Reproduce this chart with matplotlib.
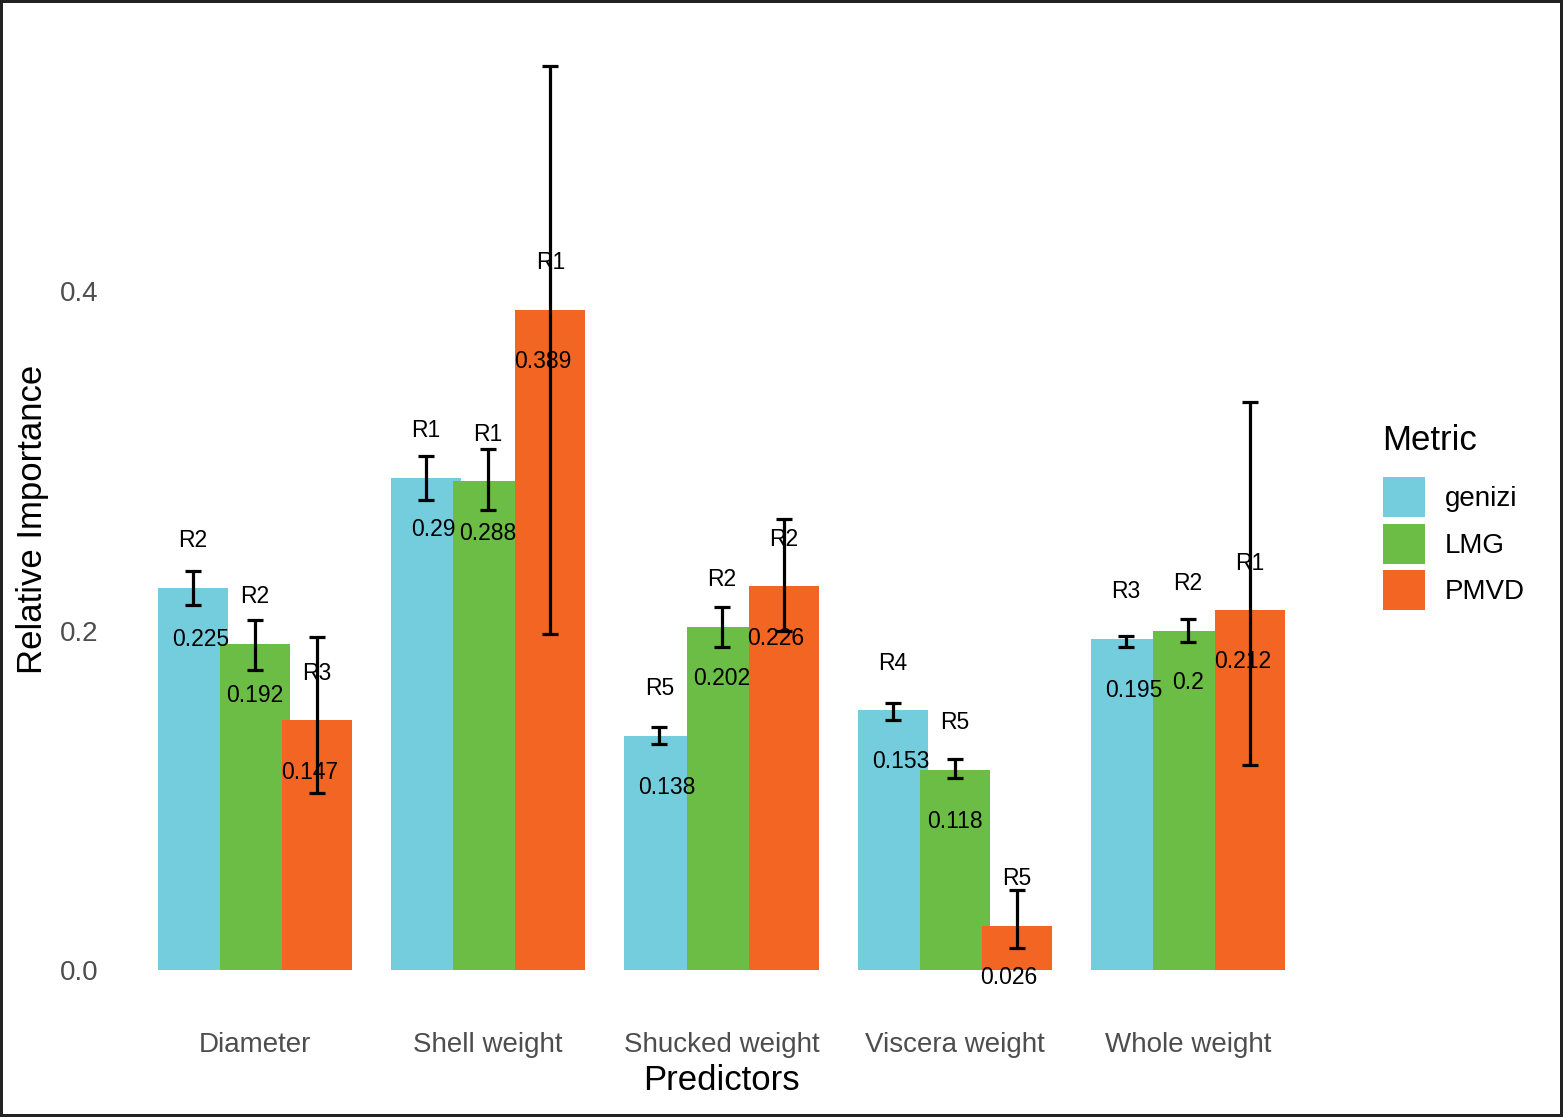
import matplotlib.pyplot as plt
import numpy as np

predictors = ['Diameter', 'Shell weight', 'Shucked weight', 'Viscera weight', 'Whole weight']
metrics = ['genizi', 'LMG', 'PMVD']
colors = ['#74CDDD', '#6BBD45', '#F26522']

genizi = [0.225, 0.290, 0.138, 0.153, 0.195]
lmg = [0.192, 0.288, 0.202, 0.118, 0.200]
pmvd = [0.147, 0.389, 0.226, 0.026, 0.212]

genizi_lo = [0.215, 0.277, 0.133, 0.147, 0.190]
genizi_hi = [0.235, 0.303, 0.143, 0.157, 0.197]
lmg_lo = [0.177, 0.271, 0.190, 0.113, 0.193]
lmg_hi = [0.206, 0.307, 0.214, 0.124, 0.207]
pmvd_lo = [0.104, 0.198, 0.200, 0.013, 0.121]
pmvd_hi = [0.196, 0.533, 0.266, 0.047, 0.335]

genizi_rank = ['R2', 'R1', 'R5', 'R4', 'R3']
lmg_rank = ['R2', 'R1', 'R2', 'R5', 'R2']
pmvd_rank = ['R3', 'R1', 'R2', 'R5', 'R1']

values = [genizi, lmg, pmvd]
lows = [genizi_lo, lmg_lo, pmvd_lo]
highs = [genizi_hi, lmg_hi, pmvd_hi]
ranks = [genizi_rank, lmg_rank, pmvd_rank]

plt.rcParams['font.family'] = ['Liberation Sans', 'DejaVu Sans']

fig = plt.figure(figsize=(15.63, 11.17), dpi=100)
fig.patch.set_edgecolor('#222222')
fig.patch.set_linewidth(4)
ax = fig.add_axes([115 / 1563, 1 - 1015 / 1117, 1213 / 1563, 995 / 1117])

x = np.arange(1, len(predictors) + 1)
bar_w = 0.9 / 3
dodge = 0.8 / 3
text_dodge = 0.7 / 3

handles = []
for i, m in enumerate(metrics):
    xb = x + (i - 1) * dodge
    xt = x + (i - 1) * text_dodge
    v = np.array(values[i])
    h = ax.bar(xb, v, width=bar_w, color=colors[i], label=m, zorder=1)
    handles.append(h)
    for j in range(len(predictors)):
        # rank above the bar, value just under its top
        ax.text(xb[j], v[j] + 0.0278, ranks[i][j], ha='center', va='center',
                fontsize=16.5, color='black', zorder=2)
        ax.text(xt[j], v[j] - 0.0305, f'{v[j]:g}', ha='center', va='center',
                fontsize=16.5, color='black', zorder=2)
    lo = v - np.array(lows[i])
    hi = np.array(highs[i]) - v
    ax.errorbar(xb, v, yerr=[lo, hi], fmt='none', ecolor='black',
                elinewidth=2.3, capsize=5.75, capthick=2.3, zorder=3)

ax.set_xlim(0.4, 5.6)
ax.set_ylim(-0.0267, 0.56)
ax.set_xticks(x)
ax.set_xticklabels(predictors)
ax.set_yticks([0.0, 0.2, 0.4])
ax.set_yticklabels(['0.0', '0.2', '0.4'])
ax.tick_params(axis='both', length=0, labelsize=20, labelcolor='#4D4D4D')
ax.tick_params(axis='x', pad=12)
ax.tick_params(axis='y', pad=12)
for s in ax.spines.values():
    s.set_visible(False)

fig.text(721.5 / 1563, 1 - 1081 / 1117, 'Predictors', ha='center', va='center', fontsize=25)
fig.text(33 / 1563, 1 - 519 / 1117, 'Relative Importance', ha='center', va='center',
         rotation=90, fontsize=25)
fig.text(1382 / 1563, 1 - 440 / 1117, 'Metric', ha='left', va='center', fontsize=25)

fig.legend(handles=handles, labels=metrics, loc='upper left',
           bbox_to_anchor=(1383 / 1563, 1 - 477 / 1117), frameon=False,
           fontsize=20, borderpad=0, borderaxespad=0, handlelength=1.51,
           handleheight=1.837, labelspacing=0.24, handletextpad=0.72)

fig.savefig('out.png', dpi=100)
